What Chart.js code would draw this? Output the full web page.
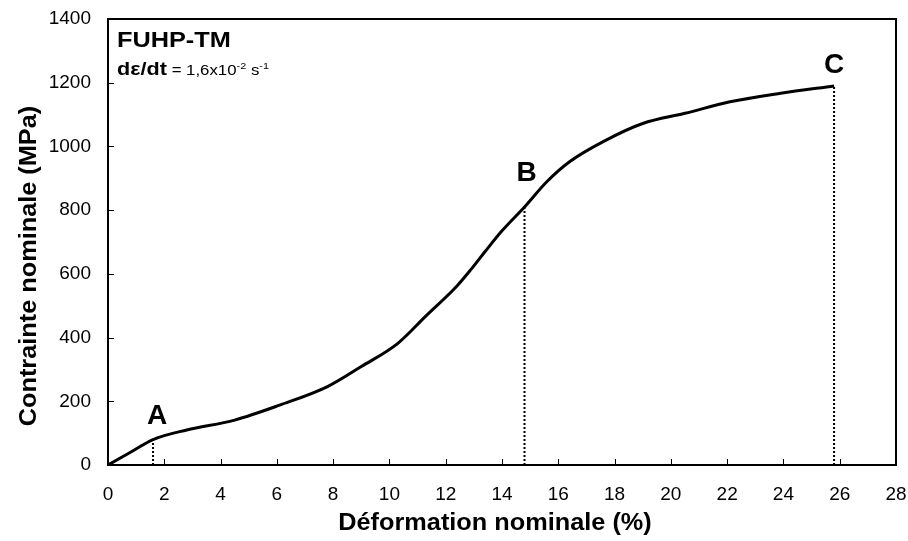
<!DOCTYPE html>
<html>
<head>
<meta charset="utf-8">
<script src="https://cdn.jsdelivr.net/npm/chart.js@4/dist/chart.umd.min.js"></script>
<style>
  body { margin: 0; background: #fff; }
  #wrap { width: 908px; height: 541px; position: relative; }
</style>
</head>
<body>
<div id="wrap"><canvas id="chart"></canvas></div>
<script>
// courbe de traction nominale
let strain = [0, 0.8, 1.6, 2.8, 4.5, 6.1, 7.8, 9.0, 10.3, 11.3, 12.4, 12.9, 13.4, 14.0, 14.8, 15.6, 16.4, 17.7, 19.0, 20.5, 22.1, 23.9, 25.8]
let stress = [0, 40, 80, 110, 141, 188, 246, 309, 382, 468, 562, 614, 670, 735, 810, 890, 952, 1020, 1072, 1104, 1140, 1167, 1190]

// points remarquables
let pointLabels = ['A', 'B', 'C']
let pointStrain = [1.6, 14.8, 25.8]
let pointStress = [80, 810, 1190]

let xTicks = [0, 2, 4, 6, 8, 10, 12, 14, 16, 18, 20, 22, 24, 26, 28]
let yTicks = [0, 200, 400, 600, 800, 1000, 1200, 1400]

let curve = strain.map((x, i) => ({x: x, y: stress[i]}))

let datasets = [{
    data: curve,
    borderColor: '#000',
    borderWidth: 3,
    pointRadius: 0,
    cubicInterpolationMode: 'monotone',
    fill: false
}]
pointStrain.forEach((x, i) => {
    datasets.push({
        data: [{x: x, y: 0}, {x: x, y: pointStress[i]}],
        borderColor: '#000',
        borderWidth: 2,
        borderDash: [2, 2],
        pointRadius: 0,
        fill: false
    })
})

let labelOffsets = [[4, -23], [2, -34], [0, -21]]

let decor = {
    id: 'decor',
    afterDraw(chart) {
        let ctx = chart.ctx
        let a = chart.chartArea
        let xs = chart.scales.x
        let ys = chart.scales.y
        ctx.save()
        // cadre
        ctx.strokeStyle = '#000'
        ctx.lineWidth = 2
        ctx.strokeRect(a.left, a.top, a.right - a.left, a.bottom - a.top)
        // graduations vers l'interieur
        ctx.lineWidth = 1
        ctx.beginPath()
        yTicks.forEach(v => {
            let py = Math.round(ys.getPixelForValue(v)) + 0.5
            ctx.moveTo(a.left, py)
            ctx.lineTo(a.left + 6, py)
        })
        xTicks.forEach(v => {
            let px = Math.round(xs.getPixelForValue(v)) + 0.5
            ctx.moveTo(px, a.bottom)
            ctx.lineTo(px, a.bottom - 6)
        })
        ctx.stroke()

        ctx.fillStyle = '#000'
        // lettres A B C
        ctx.font = 'bold 28px "Liberation Sans", Arial, sans-serif'
        ctx.textAlign = 'center'
        ctx.textBaseline = 'middle'
        pointLabels.forEach((t, i) => {
            let px = xs.getPixelForValue(pointStrain[i]) + labelOffsets[i][0]
            let py = ys.getPixelForValue(pointStress[i]) + labelOffsets[i][1]
            ctx.fillText(t, px, py)
        })

        // titre dans le cadre
        ctx.textAlign = 'left'
        ctx.textBaseline = 'alphabetic'
        ctx.save()
        ctx.translate(a.left + 9, 47)
        ctx.scale(1.15, 1)
        ctx.font = 'bold 22px "Liberation Sans", Arial, sans-serif'
        ctx.fillText('FUHP-TM', 0, 0)
        ctx.restore()

        ctx.save()
        ctx.translate(a.left + 9, 75)
        ctx.scale(1.2, 1)
        let x0 = 0
        ctx.font = 'bold 18px "Liberation Sans", Arial, sans-serif'
        ctx.fillText('dε/dt', x0, 0)
        x0 += ctx.measureText('dε/dt').width + 4
        ctx.font = '14px "Liberation Sans", Arial, sans-serif'
        ctx.fillText('= 1,6x10', x0, 0)
        x0 += ctx.measureText('= 1,6x10').width
        ctx.font = '9px "Liberation Sans", Arial, sans-serif'
        ctx.fillText('-2', x0, -6)
        x0 += ctx.measureText('-2').width + 4
        ctx.font = '14px "Liberation Sans", Arial, sans-serif'
        ctx.fillText('s', x0, 0)
        x0 += ctx.measureText('s').width
        ctx.font = '9px "Liberation Sans", Arial, sans-serif'
        ctx.fillText('-1', x0, -6)
        ctx.restore()

        // titres des axes
        ctx.font = 'bold 23px "Liberation Sans", Arial, sans-serif'
        ctx.textAlign = 'center'
        ctx.textBaseline = 'middle'
        ctx.save()
        ctx.translate(495, 524)
        ctx.scale(1.1, 1)
        ctx.fillText('Déformation nominale (%)', 0, 0)
        ctx.restore()
        ctx.save()
        ctx.translate(30, 266)
        ctx.rotate(-Math.PI / 2)
        ctx.scale(1.1, 1)
        ctx.fillText('Contrainte nominale (MPa)', 0, 0)
        ctx.restore()
        ctx.restore()
    }
}

let tickFont = {family: '"Liberation Sans", Arial, sans-serif', size: 19}

let ctx = document.getElementById('chart').getContext('2d')
let myChart = new Chart(ctx, {
    type: 'line',
    data: { datasets: datasets },
    options: {
        responsive: true,
        maintainAspectRatio: false,
        animation: false,
        layout: { padding: { top: 19, right: 12, left: 0, bottom: 0 } },
        plugins: {
            legend: { display: false },
            tooltip: { enabled: false }
        },
        scales: {
            x: {
                type: 'linear',
                min: 0,
                max: 28,
                afterFit: s => { s.height = 76; s.paddingLeft = 0; s.paddingRight = 0 },
                grid: { display: false, drawTicks: false },
                border: { display: false },
                ticks: { stepSize: 2, font: tickFont, color: '#000', padding: 18, maxRotation: 0,
                         callback: v => String(v) }
            },
            y: {
                min: 0,
                max: 1400,
                afterFit: s => { s.width = 108; s.paddingTop = 0; s.paddingBottom = 0 },
                grid: { display: false, drawTicks: false },
                border: { display: false },
                ticks: { stepSize: 200, font: tickFont, color: '#000', padding: 17,
                         callback: v => String(v) }
            }
        }
    },
    plugins: [decor]
})
</script>
</body>
</html>
